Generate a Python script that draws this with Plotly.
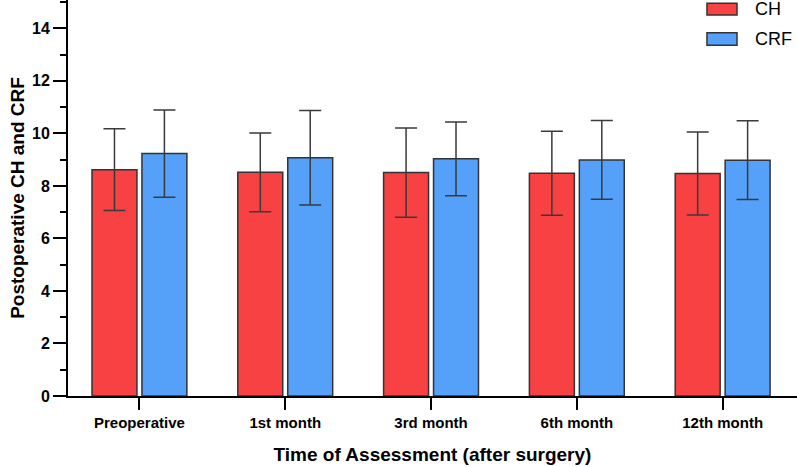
import plotly.graph_objects as go

# time points and group stats (mean, SD)
timepoints = ["Preoperative", "1st month", "3rd month", "6th month", "12th month"]
ch_mean = [8.62, 8.52, 8.51, 8.48, 8.47]
ch_sd = [1.56, 1.50, 1.70, 1.60, 1.58]
crf_mean = [9.23, 9.07, 9.03, 8.99, 8.98]
crf_sd = [1.66, 1.80, 1.40, 1.50, 1.50]

RED = "#F84143"
BLUE = "#55A1FA"
EDGE = "#333333"
FONT = "Liberation Sans, Arial, sans-serif"


def bar_trace(name, means, sds, color):
    return go.Bar(
        name=name,
        x=timepoints,
        y=means,
        marker=dict(color=color, line=dict(color=EDGE, width=1.5)),
        error_y=dict(type="data", array=sds, visible=True,
                     color="#3a3a3a", thickness=1.5, width=11),
        showlegend=False,
    )


fig = go.Figure()
fig.add_trace(bar_trace("CH", ch_mean, ch_sd, RED))
fig.add_trace(bar_trace("CRF", crf_mean, crf_sd, BLUE))

# legend drawn by hand so the swatches are wide rectangles like the original
legend_items = [("CH", RED, 0.992, 0.962), ("CRF", BLUE, 0.917, 0.886)]
for label, color, y1, y0 in legend_items:
    fig.add_shape(type="rect", xref="paper", yref="paper",
                  x0=0.8765, x1=0.9177, y0=y0, y1=y1,
                  fillcolor=color, line=dict(color=EDGE, width=1.5))
    fig.add_annotation(text=label, xref="paper", yref="paper",
                       x=0.939, y=(y0 + y1) / 2, xanchor="left", yanchor="middle",
                       showarrow=False, font=dict(family=FONT, size=18, color="black"))

fig.update_layout(
    width=797, height=467,
    margin=dict(l=68, r=0, t=0, b=71),
    paper_bgcolor="white", plot_bgcolor="white",
    barmode="group", bargap=0.315, bargroupgap=0.1,
    font=dict(family=FONT, color="black"),
)

fig.update_xaxes(
    range=[-0.49, 4.51],
    automargin=False,
    showline=True, linecolor="black", linewidth=2,
    ticks="outside", ticklen=12, tickwidth=2, tickcolor="black",
    tickfont=dict(size=15, family=FONT, weight="bold"),
    title=dict(text="<b>Time of Assessment (after surgery)</b>",
               font=dict(size=19, family=FONT), standoff=18),
    showgrid=False, zeroline=False,
)

fig.update_yaxes(
    range=[0, 15.08],
    automargin=False,
    tickvals=[0, 2, 4, 6, 8, 10, 12, 14],
    showline=True, linecolor="black", linewidth=2,
    ticks="outside", ticklen=13, tickwidth=2, tickcolor="black",
    minor=dict(dtick=1, ticks="outside", ticklen=6, tickwidth=2, tickcolor="black"),
    tickfont=dict(size=16, family=FONT, weight="bold"),
    title=dict(text="<b>Postoperative CH and CRF</b>",
               font=dict(size=19, family=FONT), standoff=2),
    showgrid=False, zeroline=False,
)

# drop the browser's default body margin so the figure sits at the window's corner
fig.write_html("out.html", config={"displayModeBar": False},
               post_script="document.body.style.margin='0';")
